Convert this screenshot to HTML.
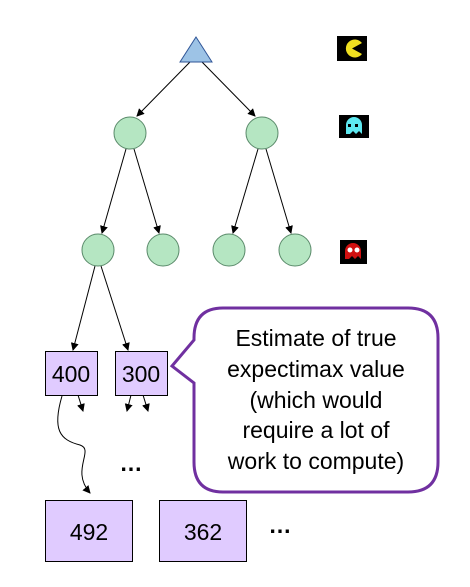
<html><body style="margin:0;width:470px;height:587px;background:#fff;position:relative;overflow:hidden;font-family:'Liberation Sans',sans-serif">
<svg width="470" height="587" style="position:absolute;left:0;top:0">
<defs><marker id="a" markerWidth="8" markerHeight="8" refX="7" refY="4" orient="auto"><path d="M0,0L8,4L0,8z" fill="#000"/></marker></defs>
<g stroke="#000" stroke-width="1" fill="none" marker-end="url(#a)">
<line x1="190" y1="62" x2="137" y2="116"/>
<line x1="202" y1="62" x2="255" y2="116"/>
<line x1="126" y1="149" x2="102" y2="233"/>
<line x1="134" y1="149" x2="159" y2="233"/>
<line x1="258" y1="149" x2="233" y2="233"/>
<line x1="266" y1="149" x2="291" y2="233"/>
<line x1="95" y1="266" x2="73" y2="350"/>
<line x1="101" y1="266" x2="128" y2="350"/>
<line x1="78" y1="395" x2="83" y2="411"/>
<line x1="131" y1="395" x2="127" y2="411"/>
<line x1="143" y1="395" x2="148" y2="411"/>
<path d="M62,396 C52,430 60,440 80,445 C95,450 70,470 90,493"/>
</g>
<polygon points="196,37 180,62 212,62" fill="#9dc3e6" stroke="#2f5597"/>
<g fill="#b5e6c2" stroke="#5a8a6a">
<circle cx="130" cy="133" r="16"/><circle cx="262" cy="133" r="16"/>
<circle cx="98" cy="250" r="16"/><circle cx="163" cy="250" r="16"/>
<circle cx="229" cy="250" r="16"/><circle cx="295" cy="250" r="16"/>
</g>
<g fill="#e0cbff" stroke="#000">
<rect x="45.5" y="351.5" width="52" height="44"/><rect x="115.5" y="351.5" width="52" height="44"/>
<rect x="45.5" y="500.5" width="87" height="61"/><rect x="159.5" y="500.5" width="87" height="61"/>
</g>
<g font-size="23" text-anchor="middle" fill="#000">
<text x="71" y="382">400</text><text x="141" y="382">300</text>
<text x="89" y="540">492</text><text x="203" y="540">362</text>
<text x="131" y="471" font-weight="bold">…</text><text x="280" y="533" font-weight="bold">…</text>
</g>
<path d="M223,308 H408 Q438,308 438,338 V462 Q438,492 408,492 H223 Q194,492 194,462 V383 L172,366 L194,340 V338 Q194,308 223,308 Z" fill="#fff" stroke="#7030a0" stroke-width="3"/>
<g font-size="23" text-anchor="middle" fill="#000">
<text x="316" y="346">Estimate of true</text>
<text x="316" y="377">expectimax value</text>
<text x="316" y="408">(which would</text>
<text x="316" y="438">require a lot of</text>
<text x="316" y="469">work to compute)</text>
</g>
<rect x="337" y="36" width="30" height="25" fill="#000"/>
<path d="M352,48.5 L362,43 A9,9 0 1 0 362,54 Z" fill="#f0e020"/>
<rect x="339" y="115" width="30" height="23" fill="#000"/>
<path d="M346,134 V125 A8,8 0 0 1 362,125 V134 L359,131 L356,134 L353,131 L350,134Z" fill="#5ee8f0"/>
<rect x="348" y="124" width="3" height="3" fill="#000"/><rect x="355" y="124" width="3" height="3" fill="#000"/>
<rect x="340" y="240" width="27" height="24" fill="#000"/>
<path d="M345,259 V251 A8,8 0 0 1 361,251 V259 L358,256 L355,259 L352,256 L349,259Z" fill="#d01010"/>
<circle cx="350" cy="250" r="2.5" fill="#fff"/><circle cx="357" cy="250" r="2.5" fill="#fff"/>
</svg>
</body></html>
